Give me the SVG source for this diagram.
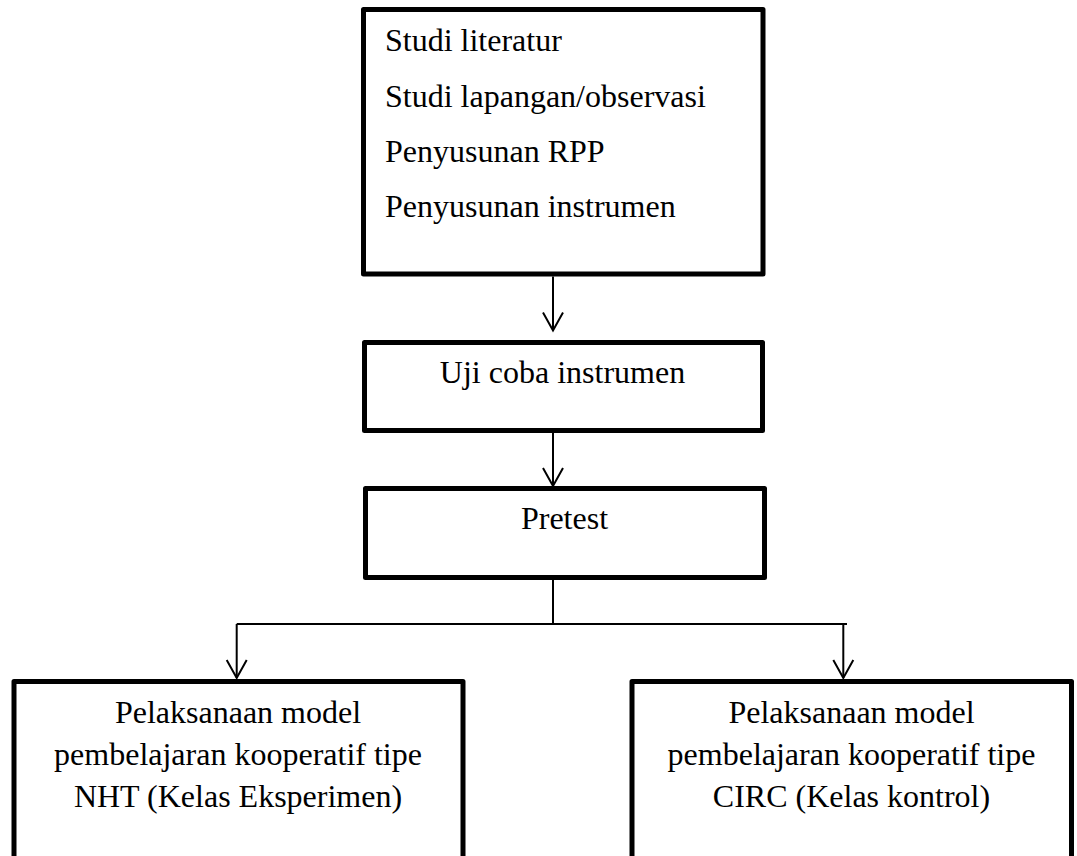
<svg xmlns="http://www.w3.org/2000/svg" width="1077" height="856" viewBox="0 0 1077 856">
<style>
.box{fill:#fff;stroke:#000;stroke-width:5;stroke-linejoin:round}
.t{font-family:"Liberation Serif","Times New Roman",serif;font-size:32px;fill:#000}
.c{text-anchor:middle}
.con{fill:none;stroke:#000;stroke-width:2}
</style>
<defs>
<marker id="ah" markerUnits="userSpaceOnUse" markerWidth="30" markerHeight="30" refX="0" refY="0" orient="auto" overflow="visible">
<path d="M-18,-10 L0,0 L-18,10" fill="none" stroke="#000" stroke-width="2"/>
</marker>
</defs>
<rect width="1077" height="856" fill="#fff"/>
<g id="n1">
<rect class="box" x="363.5" y="9.5" width="399.5" height="264.5"/>
<text class="t" x="385" y="51">Studi literatur</text>
<text class="t" x="385" y="106.5">Studi lapangan/observasi</text>
<text class="t" x="385" y="162">Penyusunan RPP</text>
<text class="t" x="385" y="217">Penyusunan instrumen</text>
</g>
<g id="n2">
<rect class="box" x="364.5" y="342.5" width="398" height="88"/>
<text class="t c" x="562.5" y="383">Uji coba instrumen</text>
</g>
<g id="n3">
<rect class="box" x="365.5" y="488.5" width="399" height="89"/>
<text class="t c" x="564.5" y="529">Pretest</text>
</g>
<g id="n4">
<rect class="box" x="14" y="681.5" width="449" height="200"/>
<text class="t c" x="238" y="723">Pelaksanaan model</text>
<text class="t c" x="238" y="765">pembelajaran kooperatif tipe</text>
<text class="t c" x="238" y="807">NHT (Kelas Eksperimen)</text>
</g>
<g id="n5">
<rect class="box" x="632" y="681.5" width="439.5" height="200"/>
<text class="t c" x="851.5" y="723">Pelaksanaan model</text>
<text class="t c" x="851.5" y="765">pembelajaran kooperatif tipe</text>
<text class="t c" x="851.5" y="807">CIRC (Kelas kontrol)</text>
</g>
<g id="connectors">
<path class="con" d="M553,276.5 L553,330.5" marker-end="url(#ah)"/>
<path class="con" d="M553,433 L553,486" marker-end="url(#ah)"/>
<path class="con" d="M553,580 L553,624"/>
<path class="con" d="M236.7,624 L847,624"/>
<path class="con" d="M236.7,624 L236.7,678" marker-end="url(#ah)"/>
<path class="con" d="M843.3,624 L843.3,678" marker-end="url(#ah)"/>
</g>
</svg>
